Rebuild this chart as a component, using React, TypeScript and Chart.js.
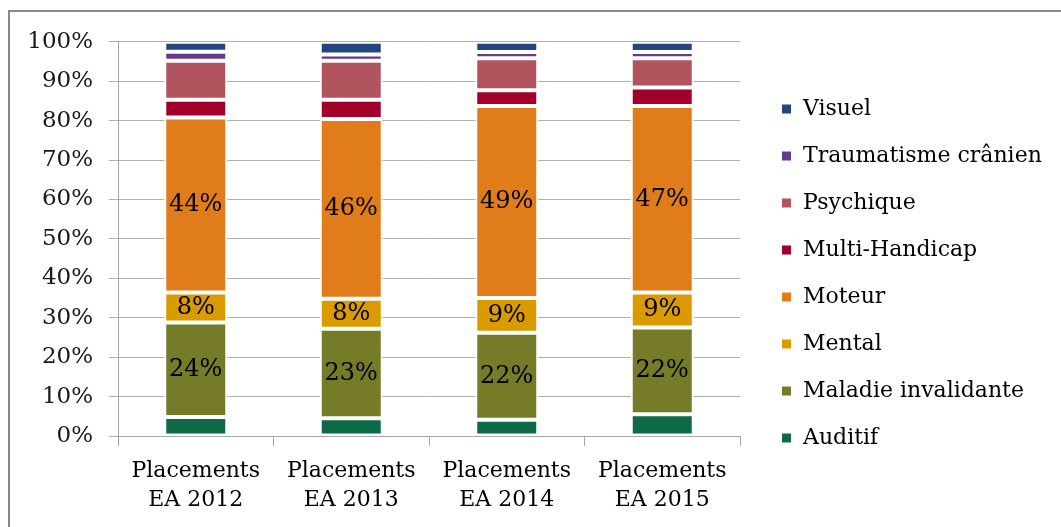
import React, { useEffect, useRef } from 'react';
import { Chart, registerables } from 'chart.js';

Chart.register(...registerables);

// ---- data ----
const categories = [
  ['Placements', 'EA 2012'],
  ['Placements', 'EA 2013'],
  ['Placements', 'EA 2014'],
  ['Placements', 'EA 2015'],
];
const auditif = [4.8, 4.5, 4.1, 5.5];
const maladieInvalidante = [24.0, 22.7, 22.1, 22.0];
const mental = [7.6, 7.6, 8.8, 8.9];
const moteur = [44.4, 45.6, 48.7, 47.3];
const multiHandicap = [4.5, 4.9, 4.0, 4.7];
const psychique = [9.9, 9.9, 8.1, 7.4];
const traumatismeCranien = [2.3, 1.6, 1.6, 1.6];
const visuel = [2.5, 3.2, 2.6, 2.6];

const seriesNames = [
  'Auditif',
  'Maladie invalidante',
  'Mental',
  'Moteur',
  'Multi-Handicap',
  'Psychique',
  'Traumatisme crânien',
  'Visuel',
];
const seriesValues = [
  auditif,
  maladieInvalidante,
  mental,
  moteur,
  multiHandicap,
  psychique,
  traumatismeCranien,
  visuel,
];
const seriesColors = [
  '#0C6A46',
  '#767B28',
  '#DA9B00',
  '#E17C1B',
  '#A00029',
  '#B1545D',
  '#67398B',
  '#254580',
];
const labelledSeries = ['Maladie invalidante', 'Mental', 'Moteur'];

const FONT = "'DejaVu Serif', serif";

const segmentLabels = {
  id: 'segmentLabels',
  afterDatasetsDraw(chart: any) {
    const ctx = chart.ctx;
    chart.data.datasets.forEach((ds: any, i: number) => {
      if (!labelledSeries.includes(ds.label)) return;
      const meta = chart.getDatasetMeta(i);
      meta.data.forEach((el: any, j: number) => {
        const v = ds.data[j];
        const p = el.getProps(['x', 'y', 'base'], true);
        ctx.save();
        ctx.font = `24px ${FONT}`;
        ctx.fillStyle = '#000';
        ctx.textAlign = 'center';
        ctx.textBaseline = 'middle';
        ctx.fillText(Math.round(v) + '%', p.x, (p.y + p.base) / 2);
        ctx.restore();
      });
    });
  },
};

const legendPlace = {
  id: 'legendPlace',
  afterLayout(chart: any) {
    const lg = chart.legend;
    if (!lg) return;
    lg.left = 746;
    lg.right = chart.width;
    lg.width = lg.right - lg.left;
    lg.top = 0;
    lg.bottom = 523;
    lg.height = lg.bottom - lg.top;
  },
};

export default function App() {
  const ref = useRef<HTMLCanvasElement | null>(null);

  useEffect(() => {
    if (!ref.current) return;
    const chart = new Chart(ref.current, {
      type: 'bar',
      data: {
        labels: categories,
        datasets: seriesNames.map((name, i) => ({
          label: name,
          data: seriesValues[i],
          backgroundColor: seriesColors[i],
          borderColor: '#ffffff',
          borderWidth: 2,
          borderSkipped: false,
          inflateAmount: 0,
          categoryPercentage: 1,
          barPercentage: 0.405,
        })),
      },
      options: {
        animation: false,
        responsive: false,
        layout: { padding: { left: 0, top: 28, right: 41, bottom: 0 } },
        plugins: {
          legend: {
            position: 'right',
            reverse: true,
            maxWidth: 280,
            labels: {
              boxWidth: 11,
              boxHeight: 11,
              padding: 25,
              color: '#000',
              font: { family: FONT, size: 22 },
            },
          },
          tooltip: { enabled: false },
        },
        scales: {
          x: {
            stacked: true,
            grid: {
              offset: true,
              drawOnChartArea: false,
              tickLength: 10,
              color: '#a6a6a6',
            },
            border: { color: '#a6a6a6' },
            ticks: {
              padding: 10,
              color: '#000',
              maxRotation: 0,
              autoSkip: false,
              font: { family: FONT, size: 22, lineHeight: 1.35 },
            },
            afterFit: (s: any) => {
              s.height = 91;
            },
          },
          y: {
            stacked: true,
            min: 0,
            max: 100,
            ticks: {
              stepSize: 10,
              padding: 16,
              color: '#1a1a1a',
              font: { family: FONT, size: 23 },
              callback: (v: any) => v + '%',
            },
            grid: { color: '#b0b0b0', tickLength: 9 },
            border: { color: '#a6a6a6' },
            afterFit: (s: any) => {
              s.width = 108;
            },
          },
        },
      } as any,
      plugins: [segmentLabels, legendPlace],
    });
    return () => chart.destroy();
  }, []);

  return (
    <div
      style={{
        position: 'fixed',
        left: 8,
        top: 10,
        borderLeft: '2px solid #898989',
        borderTop: '2px solid #898989',
        width: 1051,
        height: 515,
        background: '#fff',
      }}
    >
      <canvas ref={ref} width={1051} height={515} style={{ display: 'block' }} />
    </div>
  );
}
